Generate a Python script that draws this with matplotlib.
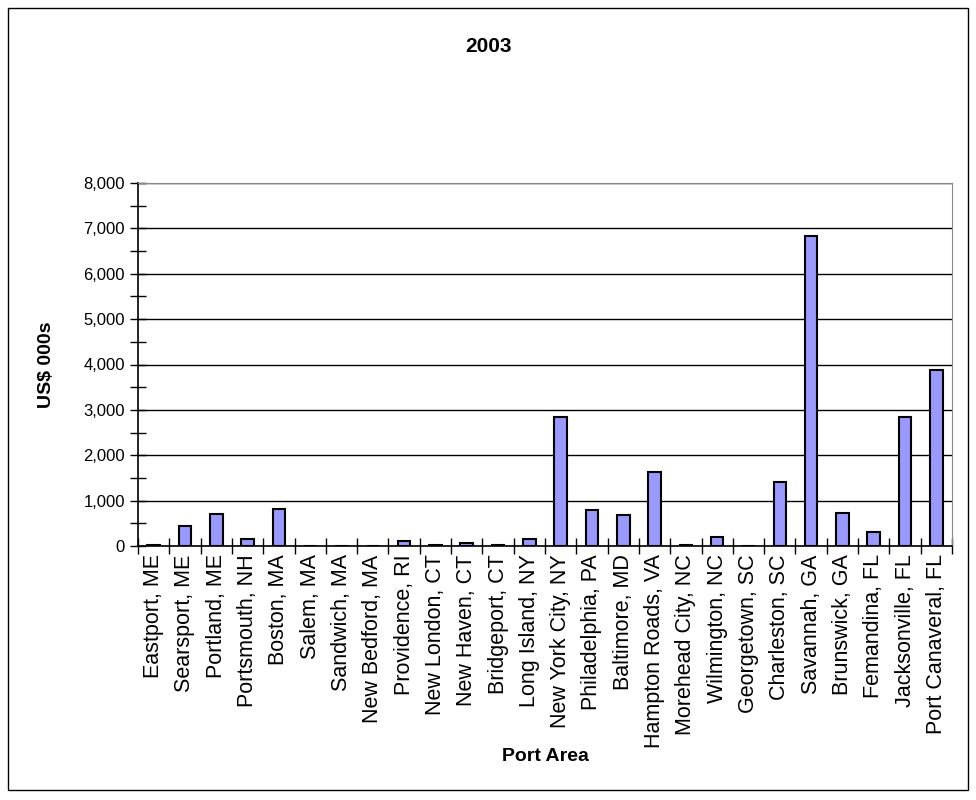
import numpy as np
import matplotlib
matplotlib.use("Agg")
import matplotlib.pyplot as plt
from matplotlib.patches import Rectangle
from matplotlib.ticker import FuncFormatter, MultipleLocator

plt.rcParams['font.family'] = ['Liberation Sans', 'DejaVu Sans']

# port areas and 2003 values (US$ 000s)
ports = ["Eastport, ME", "Searsport, ME", "Portland, ME", "Portsmouth, NH",
         "Boston, MA", "Salem, MA", "Sandwich, MA", "New Bedford, MA",
         "Providence, RI", "New London, CT", "New Haven, CT", "Bridgeport, CT",
         "Long Island, NY", "New York City, NY", "Philadelphia, PA",
         "Baltimore, MD", "Hampton Roads, VA", "Morehead City, NC",
         "Wilmington, NC", "Georgetown, SC", "Charleston, SC", "Savannah, GA",
         "Brunswick, GA", "Femandina, FL", "Jacksonville, FL",
         "Port Canaveral, FL"]
values = [30, 450, 700, 160, 820, 0, 0, 0, 120, 30, 75, 30, 160, 2850,
          800, 680, 1620, 30, 200, 0, 1420, 6830, 720, 310, 2850, 3880]

fig = plt.figure(figsize=(9.76, 8.0), dpi=100)
ax = fig.add_axes([138/976, 1-546/800, (952-138)/976, (546-183)/800])

x = np.arange(len(ports))
ax.bar(x, values, width=0.4, color='#9999FF', edgecolor='black', linewidth=1.5, zorder=3)

ax.set_xlim(-0.5, len(ports)-0.5)
ax.set_ylim(0, 8000)
ax.yaxis.set_major_locator(MultipleLocator(1000))
ax.yaxis.set_minor_locator(MultipleLocator(500))
ax.yaxis.set_major_formatter(FuncFormatter(lambda v, p: f"{int(v):,}"))
ax.grid(axis='y', which='major', color='black', linewidth=1, zorder=0)

ax.set_xticks(x)
ax.set_xticklabels(ports, rotation=90, fontsize=15.5)
ax.tick_params(axis='x', length=0, pad=6)
ax.set_xticks(np.arange(len(ports)+1)-0.5, minor=True)
ax.tick_params(axis='x', which='minor', direction='inout', length=12, width=1)
ax.tick_params(axis='y', which='both', direction='inout', length=12, width=1, labelsize=12)

for s in ['top', 'right']:
    ax.spines[s].set_color('#888888')
ax.spines['left'].set_linewidth(1.2)
ax.spines['bottom'].set_linewidth(1.2)

ax.set_ylabel("US$ 000s", fontsize=14, fontweight='bold', labelpad=20)
ax.set_xlabel("Port Area", fontsize=14, fontweight='bold', labelpad=0)
fig.text(0.5, 1-47/800, "2003", ha='center', va='center', fontsize=15, fontweight='bold')

fig.patches.append(Rectangle((8/976, 10/800), 960/976, 782/800, transform=fig.transFigure,
                             fill=False, edgecolor='black', linewidth=1))

fig.savefig("out.png", dpi=100)
